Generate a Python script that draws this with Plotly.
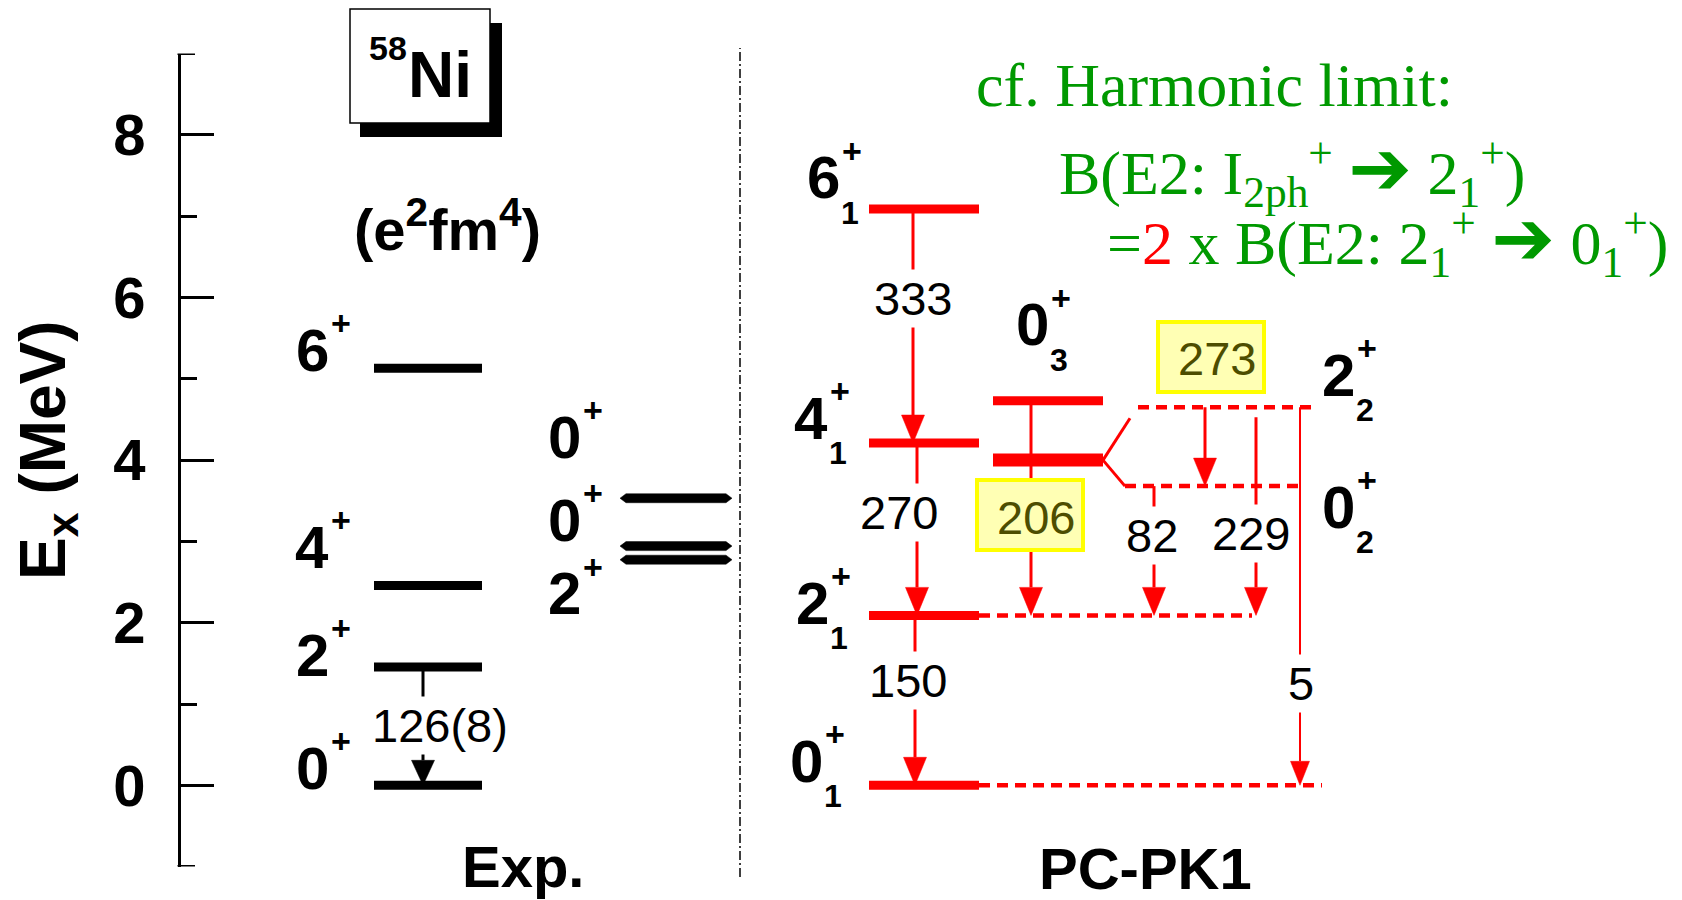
import plotly.graph_objects as go

W, H = 1682, 900

# ---------------- data ----------------
# experimental levels of 58Ni (MeV)
exp_spins = ["0", "2", "4", "6"]
exp_energy = [0.0, 1.454, 2.459, 5.13]
exp_hi_spins = ["2", "0", "0"]
exp_hi_energy = [2.775, 2.942, 3.531]
exp_be2_value = 126
exp_be2_error = 8

# PC-PK1 levels (MeV)
calc_names = ["0_1", "2_1", "4_1", "6_1", "0_2", "2_2", "0_3"]
calc_spins = ["0", "2", "4", "6", "0", "2", "0"]
calc_index = ["1", "1", "1", "1", "2", "2", "3"]
calc_energy = [0.0, 2.09, 4.21, 7.09, 3.68, 4.65, 4.73]
pair_energy = 4.00  # unresolved 0_2 / 2_2 pair before it is spread out

# PC-PK1 B(E2) values (e^2 fm^4)
trans_from = ["6_1", "4_1", "2_1", "0_3", "2_2", "0_2", "2_2", "2_2"]
trans_to = ["4_1", "2_1", "0_1", "2_1", "0_2", "2_1", "2_1", "0_1"]
trans_be2 = [333, 270, 150, 206, 273, 82, 229, 5]
boxed_be2 = [206, 273]

# ---------------- geometry ----------------
Y0_PX, PX_PER_MEV = 785.3, 81.3
E_MIN, E_MAX = -1, 9
AXIS_X = 179


def py(e):
    return Y0_PX - PX_PER_MEV * e


def pap(p):
    return 1 - p / H


RED = "#ff0000"
BLACK = "#000000"
GREEN = "#009900"
SANS = "Liberation Sans, Arial, sans-serif"
NARROW = "Liberation Sans Narrow, Arial Narrow, Liberation Sans, sans-serif"
SERIF = "Liberation Serif, Times New Roman, serif"

EXP_X = (374, 482)
EXP_HI_X = (620, 732)
CALC_X = (869, 979)
SIDE_X = (993, 1103)
DASH_END = {"0_1": 1322, "2_1": 1252}
SPLIT_X = {"2_2": (1138, 1313), "0_2": (1125, 1298)}

trans_x = [913, 917, 915, 1031, 1205, 1154, 1256, 1300]
trans_gap = [0, 0, 0, 0, 0, 0, 10, 0]   # px left open below the upper level
label_px = [(913, 298), (899, 512), (908, 680), (1030, 515), (1211, 357),
             (1152, 535), (1251, 533), (1301, 683)]

fig = go.Figure()


def seg(x0, x1, e0, e1, color, width, dash=None):
    fig.add_trace(go.Scatter(
        x=[x0, x1], y=[e0, e1], mode="lines",
        line=dict(color=color, width=width, dash=dash),
        hoverinfo="skip", showlegend=False, cliponaxis=False))


def poly(xs, ys, color):
    fig.add_trace(go.Scatter(
        x=xs, y=ys, mode="lines", fill="toself", fillcolor=color,
        line=dict(color=color, width=0.5), hoverinfo="skip", showlegend=False))


def arrow(x, e_from, e_to, color, width=3, head_len=28, head_w=23):
    base = e_to + head_len / PX_PER_MEV
    seg(x, x, e_from, base, color, width)
    poly([x - head_w / 2, x + head_w / 2, x, x - head_w / 2],
         [base, base, e_to, base], color)


def text(x, p, s, size, color=BLACK, family=SANS, bold=False, **kw):
    fig.add_annotation(
        x=x, y=pap(p), xref="x", yref="paper", text=s, showarrow=False,
        font=dict(size=size, color=color, family=family,
                  weight="bold" if bold else "normal"),
        xanchor=kw.pop("xanchor", "center"), yanchor=kw.pop("yanchor", "middle"),
        **kw)


def level_label(x, e, spin, idx, dy, color=BLACK):
    p = py(e) - dy
    text(x, p, spin, 60, color, bold=True)
    text(x + 29, p - 27, "+", 34, color, bold=True)
    if idx:
        text(x + 27, p + 35, idx, 32, color, bold=True)


# ---------------- experimental column ----------------
for e in exp_energy:
    seg(EXP_X[0], EXP_X[1], e, e, BLACK, 9)

exp_dy = [17, 12, 38, 18]
for s, e, dy in zip(exp_spins, exp_energy, exp_dy):
    level_label(312, e, s, None, dy)

# 2+ -> 0+ measured transition
arrow(423, exp_energy[1], exp_energy[0], BLACK, width=3, head_len=25, head_w=23)
text(440, 725, f"{exp_be2_value}({exp_be2_error})", 47, bgcolor="white", borderpad=2)

# higher experimental states, pointed ends
hh = 4.5 / PX_PER_MEV
for e in exp_hi_energy:
    x0, x1 = EXP_HI_X
    poly([x0, x0 + 6, x1 - 6, x1, x1 - 6, x0 + 6, x0],
         [e, e + hh, e + hh, e, e - hh, e - hh, e], BLACK)

hi_dy = [-34, 26, 61]
for s, e, dy in zip(exp_hi_spins, exp_hi_energy, hi_dy):
    level_label(564, e, s, None, dy)

# ---------------- PC-PK1 column ----------------
E = dict(zip(calc_names, calc_energy))
for n in ["0_1", "2_1", "4_1", "6_1"]:
    seg(CALC_X[0], CALC_X[1], E[n], E[n], RED, 9)
for n, xe in DASH_END.items():
    seg(CALC_X[1], xe, E[n], E[n], RED, 4.5, "11px,7px")

seg(SIDE_X[0], SIDE_X[1], E["0_3"], E["0_3"], RED, 9)
seg(SIDE_X[0], SIDE_X[1], pair_energy, pair_energy, RED, 13)
for n, (xa, xb) in SPLIT_X.items():
    seg(xa, xb, E[n], E[n], RED, 4.5, "11px,7px")
# fork spreading the pair into 2_2 and 0_2
seg(SIDE_X[1], 1130, pair_energy, E["2_2"] - 11 / PX_PER_MEV, RED, 3)
seg(SIDE_X[1], SPLIT_X["0_2"][0], pair_energy, E["0_2"], RED, 3)

for src, dst, val, x, gap in zip(trans_from, trans_to, trans_be2, trans_x, trans_gap):
    start = E[src] - gap / PX_PER_MEV
    if val < 10:
        arrow(x, start, E[dst], RED, width=2, head_len=24, head_w=19)
    else:
        arrow(x, start, E[dst], RED)

for val, (lx, lp) in zip(trans_be2, label_px):
    if val in boxed_be2:
        fig.add_shape(type="rect", xref="x", yref="paper",
                      x0=lx - 53, x1=lx + 53, y0=pap(lp + 35), y1=pap(lp - 35),
                      fillcolor="#ffffb4", line=dict(color="#ffff00", width=4))
        text(lx + 6, lp + 2, str(val), 47, color="#4d4d00")
    else:
        text(lx, lp, str(val), 47, bgcolor="white", borderpad=2)

calc_lx = {"6_1": 823, "4_1": 811, "2_1": 812, "0_1": 806,
           "0_3": 1032, "2_2": 1338, "0_2": 1338}
calc_dy = {"6_1": 31, "4_1": 25, "2_1": 12, "0_1": 24,
           "0_3": 76, "2_2": 32, "0_2": -21}
for n, s, i in zip(calc_names, calc_spins, calc_index):
    level_label(calc_lx[n], E[n], s, i, calc_dy[n])

# ---------------- titles and decorations ----------------
fig.add_shape(type="line", xref="x", yref="paper", x0=740, x1=740,
              y0=pap(877), y1=pap(48),
              line=dict(color=BLACK, width=1.5, dash="9px,3px,2px,3px"))

# end caps of the energy axis
for e in (E_MIN, E_MAX):
    fig.add_shape(type="line", xref="x", yref="y", x0=AXIS_X - 1.5, x1=AXIS_X + 16,
                  y0=e, y1=e, line=dict(color=BLACK, width=3))

# nucleus tag with drop shadow
fig.add_shape(type="rect", xref="x", yref="paper", x0=360, x1=502,
              y0=pap(137), y1=pap(23), fillcolor=BLACK, line=dict(width=0))
fig.add_shape(type="rect", xref="x", yref="paper", x0=350, x1=490,
              y0=pap(123), y1=pap(9), fillcolor="white",
              line=dict(color=BLACK, width=1.5))
text(388, 48, "58", 34, family=NARROW, bold=True)
text(440, 75, "Ni", 64, family=NARROW, bold=True)

text(447, 226, "(e<sup>2</sup>fm<sup>4</sup>)", 58, bold=True)
text(523, 866, "Exp.", 58, bold=True)
text(1145, 868, "PC-PK1", 58, bold=True)
text(47, 450, "E<sub>x</sub> (MeV)", 64, bold=True, textangle=-90)

ARW = "<span style='font-family:DejaVu Sans;font-size:76px'>➔</span>"
text(974, 85, "cf. Harmonic limit:", 62, GREEN, SERIF, xanchor="left")
text(1057, 169, f"B(E2: I<sub>2ph</sub><sup>+</sup> {ARW} 2<sub>1</sub><sup>+</sup>)",
     62, GREEN, SERIF, xanchor="left")
text(1105, 240,
     f"=<span style='color:{RED}'>2</span> x B(E2: 2<sub>1</sub><sup>+</sup> {ARW} "
     f"0<sub>1</sub><sup>+</sup>)", 62, GREEN, SERIF, xanchor="left")

fig.update_layout(
    width=W, height=H, margin=dict(l=0, r=0, t=0, b=0),
    paper_bgcolor="white", plot_bgcolor="rgba(0,0,0,0)", showlegend=False,
    xaxis=dict(range=[0, W], visible=False, fixedrange=True),
    yaxis=dict(
        range=[E_MIN, E_MAX], domain=[pap(py(E_MIN)), pap(py(E_MAX))],
        anchor="free", position=AXIS_X / W,
        showline=True, linecolor=BLACK, linewidth=3,
        ticks="inside", ticklen=33, tickwidth=3, tickcolor=BLACK,
        tick0=0, dtick=2, showgrid=False, zeroline=False,
        minor=dict(ticks="inside", ticklen=16, tickwidth=3, tickcolor=BLACK,
                   tick0=-1, dtick=2, showgrid=False),
        tickfont=dict(size=58, family=SANS, color=BLACK, weight="bold"),
        ticklabelstandoff=21, fixedrange=True,
    ),
)

fig.write_html("out.html", config={"displayModeBar": False})
